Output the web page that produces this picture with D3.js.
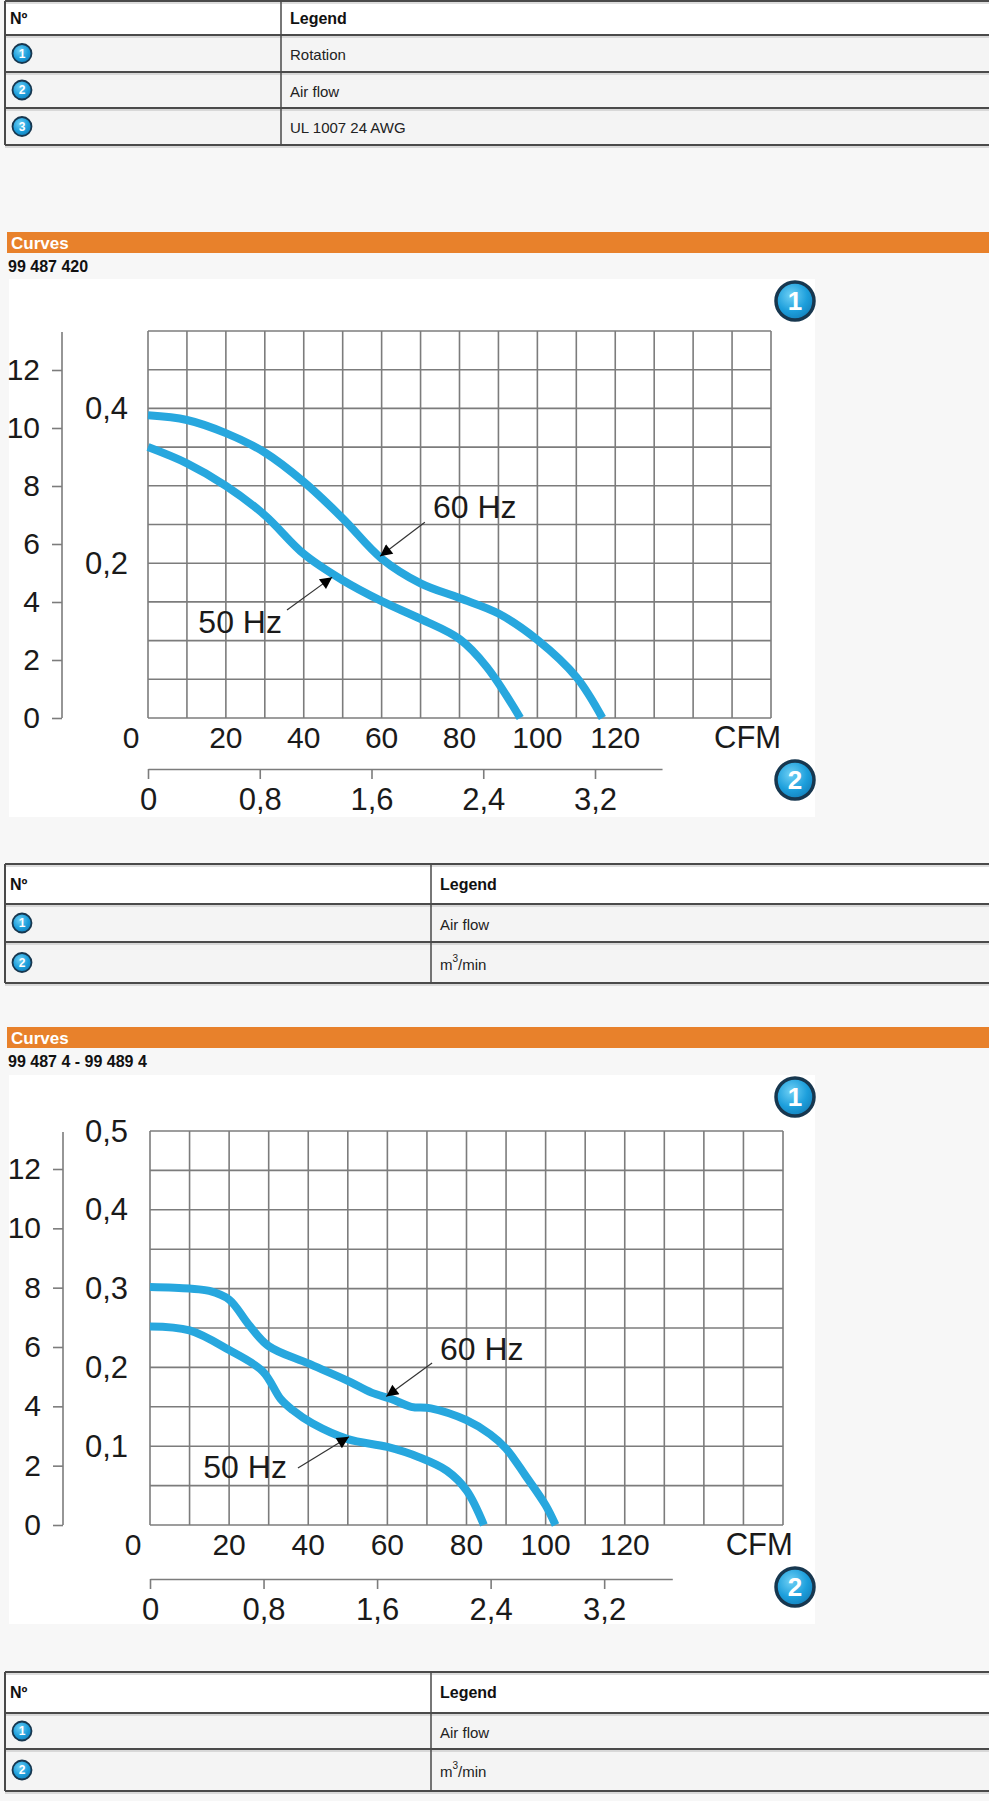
<!DOCTYPE html>
<html>
<head>
<meta charset="utf-8">
<script src="https://cdn.jsdelivr.net/npm/d3@7/dist/d3.min.js"></script>
<style>
  html, body { margin: 0; padding: 0; background: #f7f7f7; }
  svg { display: block; font-family: "Liberation Sans", Arial, Helvetica, sans-serif; }
</style>
</head>
<body>
<svg id="page" width="989" height="1801"></svg>
<script>
// ---------------- DATA ----------------
const table1Rows = ["Rotation", "Air flow", "UL 1007 24 AWG"];
const table2Rows = ["Air flow", "m3/min"];
const table3Rows = ["Air flow", "m3/min"];

const chart1Title = "99 487 420";
const chart2Title = "99 487 4 - 99 489 4";

// CFM values (x) and pressure values in in. H2O (inner axis)
const c1_60_cfm = [0, 10, 20, 30, 40, 50, 60, 70, 80, 90, 100, 110, 116.7];
const c1_60_p   = [0.391, 0.385, 0.368, 0.343, 0.305, 0.258, 0.206, 0.174, 0.155, 0.135, 0.101, 0.053, 0];
const c1_50_cfm = [0, 10, 20, 30, 40, 50, 60, 70, 80, 87, 95.6];
const c1_50_p   = [0.350, 0.329, 0.300, 0.262, 0.212, 0.178, 0.151, 0.128, 0.102, 0.066, 0];

const c2_60_cfm = [0, 10, 15, 20, 25, 30, 40, 50, 56, 61, 66, 71, 80, 86, 90, 95, 100, 102.5];
const c2_60_p   = [0.302, 0.300, 0.297, 0.286, 0.254, 0.227, 0.205, 0.183, 0.168, 0.160, 0.150, 0.148, 0.133, 0.115, 0.097, 0.062, 0.025, 0];
const c2_50_cfm = [0, 10, 20, 28.5, 33, 36, 41, 50, 60, 68, 75, 80, 84.4];
const c2_50_p   = [0.252, 0.247, 0.222, 0.195, 0.160, 0.146, 0.129, 0.109, 0.099, 0.086, 0.069, 0.044, 0];

const outerTicks = [0, 2, 4, 6, 8, 10, 12];
const cfmTicks = [0, 20, 40, 60, 80, 100, 120];
const m3Ticks = [0, 0.8, 1.6, 2.4, 3.2];
const inner1Ticks = [0.2, 0.4];
const inner2Ticks = [0.1, 0.2, 0.3, 0.4, 0.5];

// ---------------- DRAW ----------------
const svg = d3.select("#page");
const defs = svg.append("defs");
const grad = defs.append("radialGradient").attr("id", "badgeGrad")
  .attr("cx", "40%").attr("cy", "35%").attr("r", "70%");
grad.append("stop").attr("offset", "0%").attr("stop-color", "#6fd0f5");
grad.append("stop").attr("offset", "60%").attr("stop-color", "#1d9fdc");
grad.append("stop").attr("offset", "100%").attr("stop-color", "#137fba");
defs.append("marker").attr("id", "arrowHead")
  .attr("viewBox", "0 0 10 10").attr("refX", 10).attr("refY", 5)
  .attr("markerWidth", 18).attr("markerHeight", 12).attr("markerUnits", "userSpaceOnUse")
  .attr("orient", "auto")
  .append("path").attr("d", "M0,0 L10,5 L0,10 Z").attr("fill", "#000");

function badge(g, cx, cy, r, label, fs) {
  g.append("circle").attr("cx", cx).attr("cy", cy).attr("r", r)
    .attr("fill", "url(#badgeGrad)").attr("stroke", "#17374f").attr("stroke-width", r > 12 ? 3.5 : 1.8);
  g.append("text").attr("x", cx).attr("y", cy).attr("text-anchor", "middle")
    .attr("dominant-baseline", "central").attr("fill", "#fff")
    .attr("font-weight", "bold").attr("font-size", fs).text(label);
}

function drawTable(top, rowBottoms, divider, rows) {
  const g = svg.append("g");
  const left = 5, right = 989;
  g.append("rect").attr("x", left).attr("y", top).attr("width", right - left)
    .attr("height", rowBottoms[0] - top).attr("fill", "#ffffff");
  rowBottoms.slice(0, -1).forEach((yb, i) => {
    g.append("rect").attr("x", left).attr("y", yb).attr("width", right - left)
      .attr("height", rowBottoms[i + 1] - yb).attr("fill", "#f4f4f4");
  });
  [top].concat(rowBottoms).forEach(y => {
    g.append("line").attr("x1", left).attr("x2", right).attr("y1", y).attr("y2", y)
      .attr("stroke", "#4a4a4a").attr("stroke-width", 2);
    g.append("line").attr("x1", left).attr("x2", right).attr("y1", y + 2).attr("y2", y + 2)
      .attr("stroke", "#bbb").attr("stroke-width", 1);
  });
  const bottom = rowBottoms[rowBottoms.length - 1];
  g.append("line").attr("x1", left).attr("x2", left).attr("y1", top).attr("y2", bottom)
    .attr("stroke", "#4a4a4a").attr("stroke-width", 2);
  g.append("line").attr("x1", divider).attr("x2", divider).attr("y1", top).attr("y2", bottom)
    .attr("stroke", "#4a4a4a").attr("stroke-width", 1.5);
  const hc = (top + rowBottoms[0]) / 2;
  g.append("text").attr("x", 10).attr("y", hc).attr("dominant-baseline", "central")
    .attr("font-weight", "bold").attr("font-size", 16).attr("fill", "#111").text("Nº");
  g.append("text").attr("x", divider + 9).attr("y", hc).attr("dominant-baseline", "central")
    .attr("font-weight", "bold").attr("font-size", 16).attr("fill", "#111").text("Legend");
  rows.forEach((label, i) => {
    const yc = (rowBottoms[i] + rowBottoms[i + 1]) / 2;
    badge(g, 22, yc, 9.5, String(i + 1), 12);
    const t = g.append("text").attr("x", divider + 9).attr("y", yc + 1)
      .attr("dominant-baseline", "central").attr("font-size", 15).attr("fill", "#222");
    if (label === "m3/min") {
      t.append("tspan").text("m");
      t.append("tspan").attr("font-size", 10).attr("dy", -6).text("3");
      t.append("tspan").attr("dy", 6).text("/min");
    } else {
      t.text(label);
    }
  });
}

drawTable(1, [35, 72, 108, 145], 281, table1Rows);
drawTable(864, [904, 942, 983], 431, table2Rows);
drawTable(1672, [1713, 1749, 1791], 431, table3Rows);

const fmt = d => String(d).replace(".", ",");

function drawChart(cfg) {
  const g = svg.append("g");
  g.append("rect").attr("x", 7).attr("y", cfg.barY).attr("width", 982).attr("height", 21).attr("fill", "#e8812b");
  g.append("text").attr("x", 11).attr("y", cfg.barY + 17).attr("fill", "#fff")
    .attr("font-weight", "bold").attr("font-size", 17).text("Curves");
  g.append("text").attr("x", 8).attr("y", cfg.barY + 40).attr("fill", "#111")
    .attr("font-weight", "bold").attr("font-size", 16).text(cfg.title);
  g.append("rect").attr("x", 9).attr("y", cfg.panelY0).attr("width", 806)
    .attr("height", cfg.panelY1 - cfg.panelY0).attr("fill", "#fff");

  const x = d3.scaleLinear().domain([0, 160]).range([cfg.gx0, cfg.gx1]);
  const y = d3.scaleLinear().domain([0, 0.5]).range([cfg.gy1, cfg.gy0]);
  const yOuter = d3.scaleLinear().domain([0, 12]).range([cfg.gy1, cfg.y12]);
  const m3 = d3.scaleLinear().domain([0, 4.46]).range([cfg.gx0, cfg.gx1]);

  const gridColor = "#7c7c7c";
  const grid = g.append("g").attr("stroke", gridColor).attr("stroke-width", 1.6);
  grid.selectAll("line.v").data(d3.range(0, 161, 10)).join("line")
    .attr("x1", d => x(d)).attr("x2", d => x(d)).attr("y1", cfg.gy0).attr("y2", cfg.gy1);
  grid.selectAll("line.h").data(d3.range(0, 11).map(i => i * 0.05)).join("line")
    .attr("x1", cfg.gx0).attr("x2", cfg.gx1).attr("y1", d => y(d)).attr("y2", d => y(d));

  g.append("line").attr("x1", cfg.ax).attr("x2", cfg.ax).attr("y1", cfg.gy0 + 1).attr("y2", cfg.gy1)
    .attr("stroke", gridColor).attr("stroke-width", 1.6);
  const outer = g.append("g").attr("transform", `translate(${cfg.ax},0)`)
    .call(d3.axisLeft(yOuter).tickValues(outerTicks).tickSize(10).tickSizeOuter(0).tickPadding(12));
  outer.select(".domain").remove();
  outer.selectAll("line").attr("stroke", gridColor).attr("stroke-width", 1.6);
  outer.selectAll("text").attr("font-size", 30).attr("fill", "#1a1a1a")
    .attr("font-family", "Liberation Sans, Arial, sans-serif");

  g.selectAll("text.inner").data(cfg.innerTicks).join("text")
    .attr("x", 128).attr("y", d => y(d)).attr("text-anchor", "end")
    .attr("dominant-baseline", "central").attr("font-size", 31).attr("fill", "#1a1a1a")
    .text(fmt);

  g.selectAll("text.cfm").data(cfmTicks).join("text")
    .attr("x", d => d === 0 ? x(0) - 17 : x(d)).attr("y", cfg.cfmBase)
    .attr("text-anchor", "middle").attr("font-size", 30).attr("fill", "#1a1a1a").text(d => d);
  g.append("text").attr("x", x(154)).attr("y", cfg.cfmBase).attr("text-anchor", "middle")
    .attr("font-size", 31).attr("fill", "#1a1a1a").text("CFM");

  const m3Axis = d3.scaleLinear().domain([0, 3.68]).range([cfg.gx0, m3(3.68)]);
  const ma = g.append("g").attr("transform", `translate(0,${cfg.m3Y})`)
    .call(d3.axisBottom(m3Axis).tickValues(m3Ticks).tickSize(10).tickSizeOuter(0).tickPadding(9).tickFormat(fmt));
  ma.select(".domain").attr("stroke", gridColor).attr("stroke-width", 1.6);
  ma.selectAll("line").attr("stroke", gridColor).attr("stroke-width", 1.6);
  ma.selectAll("text").attr("font-size", 31).attr("fill", "#1a1a1a")
    .attr("font-family", "Liberation Sans, Arial, sans-serif");

  const line = d3.line().x(d => x(d[0])).y(d => y(d[1])).curve(d3.curveCatmullRom.alpha(0.5));
  cfg.series.forEach(s => {
    g.append("path").datum(d3.zip(s.cfm, s.p)).attr("d", line)
      .attr("fill", "none").attr("stroke", "#27a7de").attr("stroke-width", 8)
      .attr("stroke-linecap", "butt").attr("stroke-linejoin", "round");
  });

  cfg.notes.forEach(n => {
    g.append("line").attr("x1", x(n.from[0])).attr("y1", y(n.from[1]))
      .attr("x2", x(n.tip[0])).attr("y2", y(n.tip[1]))
      .attr("stroke", "#333").attr("stroke-width", 1.2).attr("marker-end", "url(#arrowHead)");
    g.append("text").attr("x", x(n.text[0])).attr("y", y(n.text[1]))
      .attr("text-anchor", n.anchor).attr("font-size", 32).attr("fill", "#1a1a1a").text(n.label);
  });

  badge(g, 795, cfg.b1Y, 19, "1", 26);
  badge(g, 795, cfg.b2Y, 19, "2", 26);
}

drawChart({
  title: chart1Title, barY: 232, panelY0: 279, panelY1: 817,
  gx0: 148, gx1: 771, gy0: 331, gy1: 718, y12: 370, ax: 62,
  innerTicks: inner1Ticks, cfmBase: 748, m3Y: 769,
  series: [{ cfm: c1_60_cfm, p: c1_60_p }, { cfm: c1_50_cfm, p: c1_50_p }],
  notes: [
    { label: "60 Hz", text: [73.2, 0.258], anchor: "start", from: [71.1, 0.253], tip: [59.6, 0.209] },
    { label: "50 Hz", text: [34.4, 0.110], anchor: "end", from: [35.7, 0.1395], tip: [47.3, 0.182] }
  ],
  b1Y: 301, b2Y: 780
});

drawChart({
  title: chart2Title, barY: 1027, panelY0: 1075, panelY1: 1624,
  gx0: 150, gx1: 783, gy0: 1131, gy1: 1525, y12: 1169, ax: 63,
  innerTicks: inner2Ticks, cfmBase: 1555, m3Y: 1579,
  series: [{ cfm: c2_60_cfm, p: c2_60_p }, { cfm: c2_50_cfm, p: c2_50_p }],
  notes: [
    { label: "60 Hz", text: [73.3, 0.209], anchor: "start", from: [71.3, 0.2056], tip: [59.7, 0.163] },
    { label: "50 Hz", text: [34.6, 0.0596], anchor: "end", from: [37.4, 0.0723], tip: [50.3, 0.112] }
  ],
  b1Y: 1097, b2Y: 1587
});
</script>
</body>
</html>
